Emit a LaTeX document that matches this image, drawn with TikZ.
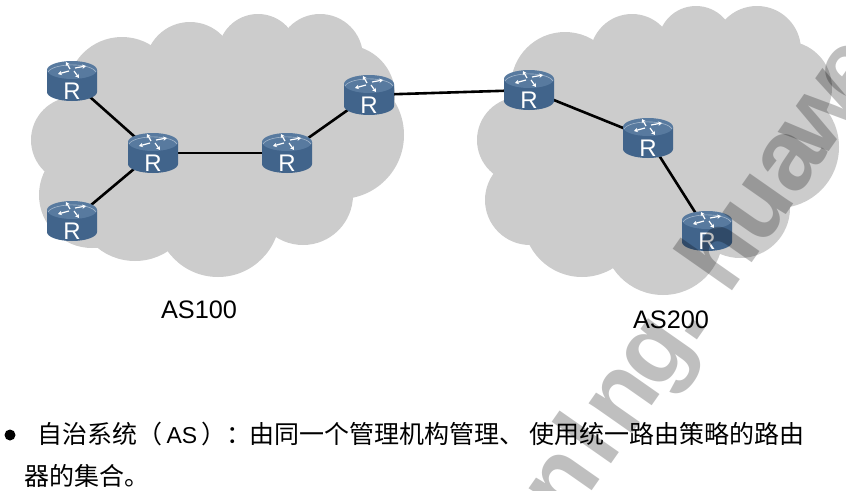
\documentclass[tikz,border=0pt]{standalone}
\usepackage{fontspec}
\setmainfont{Liberation Sans}
\newfontfamily\cjk{Noto Sans CJK SC}
\usetikzlibrary{arrows.meta}
\usetikzlibrary{backgrounds}

\definecolor{cloudgray}{HTML}{CCCCCC}
\definecolor{routerside}{HTML}{41648B}
\definecolor{routertop}{HTML}{587A9F}
\definecolor{routerrim}{HTML}{A3B6CB}

\tikzset{
  routerarrow/.style={white, line width=1.2pt, -{Stealth[length=3.8pt,width=4.4pt]}},
  routericon/.pic={
    \fill[routerside] (-25,-11) -- (-25,11) arc[start angle=180, end angle=0, x radius=25, y radius=9] -- (25,-11) -- cycle;
    \fill[routertop] (0,-11) ellipse[x radius=25, y radius=9];
    \draw[routerrim, line width=0.6pt] (-24,-9) arc[start angle=170, end angle=10, x radius=24.4, y radius=-8.6];
    \draw[routerarrow] (-2,-12) -- (-6,-19);
    \draw[routerarrow] (3,-13) -- (14,-15);
    \draw[routerarrow] (2,-10) -- (7,-3);
    \draw[routerarrow] (-3,-10) -- (-14,-7);
  },
  router/.style={inner sep=0pt, text=white, text height=38pt, text depth=2pt, text width=50pt, align=center, font=\fontsize{24}{24}\selectfont},
  link/.style={line width=2.6pt, black},
  aslabel/.style={font=\fontsize{25.3}{25.3}\selectfont, inner sep=0pt},
  bodytext/.style={font=\fontsize{25}{25}\selectfont\cjk, inner sep=0pt, anchor=base west},
  bulletdot/.style={circle, fill=black, minimum size=11pt, inner sep=0pt},
  watermark/.style={font=\fontsize{100}{100}\selectfont\bfseries, text=black, text opacity=0.25, inner sep=0pt, anchor=base, rotate=55}
}
\newcommand{\routernode}[2]{\pic at (#2) {routericon}; \node[router] (#1) at (#2) {R};}

\begin{document}
\begin{tikzpicture}[x=1pt,y=-1pt]
\useasboundingbox (0,0) rectangle (846,490);

\routernode{R1}{72,81}
\routernode{R2}{153,153}
\routernode{R3}{72,221}
\routernode{R4}{287,153}
\routernode{R5}{369,95}
\routernode{R6}{529,90}
\routernode{R7}{648,138}
\routernode{R8}{707,231}

\begin{scope}[on background layer]
% left cloud
\foreach \x/\y/\r in {122/92/55, 190/67/45, 258/54/40, 320/57/43, 345/95/50, 340/135/64, 303/195/50, 218/215/62, 135/201/60, 92/195/53, 74/140/43, 200/150/100, 270/130/90}
  \fill[cloudgray] (\x,\y) circle[radius=\r];
% right cloud
\foreach \x/\y/\r in {565/86/54, 632/56/42, 696/44/38, 757/50/44, 785/88/47, 778/147/61, 740/208/50, 663/235/60, 582/218/59, 530/200/45, 520/140/43, 660/150/100, 600/150/70, 740/120/60}
  \fill[cloudgray] (\x,\y) circle[radius=\r];

\draw[link] (R1.center) -- (R2.center);
\draw[link] (R3.center) -- (R2.center);
\draw[link] (R2.center) -- (R4.center);
\draw[link] (R4.center) -- (R5.center);
\draw[link] (R5.center) -- (R6.center);
\draw[link] (R6.center) -- (R7.center);
\draw[link] (R7.center) -- (R8.center);
\end{scope}

\node[aslabel] (as100) at (199,310) {AS100};
\node[aslabel] (as200) at (671,320) {AS200};

\node[bulletdot] (dot) at (10,435) {};
\node[bodytext] (line1) at (37,443) {自治系统（\hspace{-2pt}{\rmfamily\fontsize{23}{23}\selectfont\ AS\ }\hspace{-2pt}）：\hspace{-2pt}由同一个管理机构管理、\hspace{5pt}使用统一路由策略的路由};
\node[bodytext] (line2) at (24,485) {器的集合。};

% watermark letters
\foreach \x/\y/\ch [count=\i] in {586/499/n, 615/458/l, 646/414/n, 678/368/g, 701/334/., 746/271/h, 780/223/u, 812/176/a, 844/131/w, 874/88/e}
  \node[watermark] (mark\i) at (\x,\y) {\ch};
\end{tikzpicture}
\end{document}
